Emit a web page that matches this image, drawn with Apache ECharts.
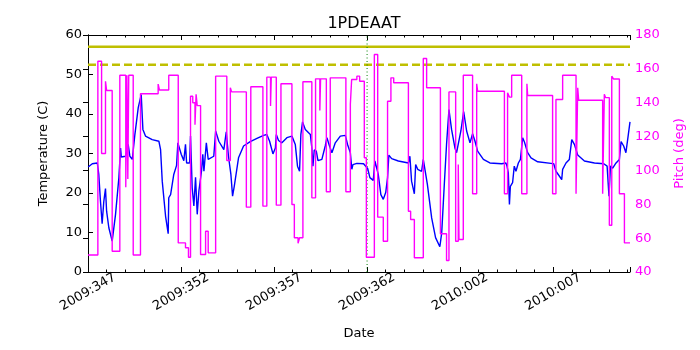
<!DOCTYPE html>
<html>
<head>
<meta charset="utf-8">
<script src="https://cdn.jsdelivr.net/npm/echarts@6/dist/echarts.min.js"></script>
<style>
  html, body { margin: 0; padding: 0; background: #fff; }
  #chart { width: 700px; height: 350px; }
</style>
</head>
<body>
<div id="chart"></div>
<script>
// x values are days since 2009:347
const tickLabels = ["2009:347", "2009:352", "2009:357", "2009:362", "2010:002", "2010:007"]
const dayMax = 29.13

const tempDays = [
    0.01, 0.23, 0.5, 0.58, 0.67, 0.76, 0.85, 0.94, 1.0, 1.12,
    1.3, 1.48, 1.66, 1.75, 1.79, 2.02, 2.16, 2.25, 2.38, 2.52,
    2.7, 2.86, 2.91, 2.95, 3.09, 3.45, 3.81, 3.9, 3.99, 4.17,
    4.31, 4.34, 4.44, 4.61, 4.76, 4.83, 5.01, 5.15, 5.24, 5.3,
    5.46, 5.51, 5.6, 5.69, 5.78, 5.87, 5.96, 6.1, 6.17, 6.23,
    6.36, 6.46, 6.76, 6.86, 7.03, 7.3, 7.43, 7.55, 7.68, 7.77,
    7.86, 8.09, 8.36, 8.72, 9.08, 9.44, 9.61, 9.76, 9.94, 10.07,
    10.12, 10.24, 10.42, 10.69, 10.96, 11.14, 11.26, 11.37, 11.44, 11.53,
    11.68, 11.95, 12.03, 12.09, 12.16, 12.27, 12.36, 12.57, 12.75, 12.84,
    12.98, 13.11, 13.29, 13.56, 13.83, 13.95, 14.1, 14.18, 14.24, 14.45,
    14.81, 14.88, 15.03, 15.15, 15.33, 15.42, 15.51, 15.6, 15.74, 15.87,
    16.0, 16.1, 16.17, 16.32, 16.68, 17.22, 17.3, 17.39, 17.54, 17.61,
    17.72, 17.93, 18.02, 18.11, 18.24, 18.47, 18.68, 18.91, 19.01, 19.15,
    19.27, 19.4, 19.54, 19.72, 19.81, 19.9, 20.04, 20.19, 20.35, 20.53,
    20.67, 20.8, 20.94, 21.25, 21.6, 22.23, 22.46, 22.52, 22.59, 22.65,
    22.7, 22.82, 22.91, 23.0, 23.13, 23.24, 23.36, 23.45, 23.63, 23.81,
    24.17, 24.88, 25.03, 25.15, 25.33, 25.46, 25.51, 25.69, 25.87, 26.0,
    26.14, 26.32, 26.68, 27.22, 27.72, 27.9, 28.0, 28.08, 28.2, 28.38,
    28.56, 28.65, 28.79, 28.91, 29.04, 29.13
]
const tempValues = [
    26.6, 27.4, 27.6, 24.7, 17.9, 12.2, 17.9, 21.1, 15.4, 11.2,
    7.8, 14.6, 23.9, 31.4, 29.1, 29.3, 32.3, 29.3, 28.5, 34.8,
    41.6, 44.9, 44.9, 36.1, 34.4, 33.5, 33.1, 31, 23, 14.1,
    9.7, 18.8, 19.6, 24.7, 27, 32.7, 29.8, 28.2, 32.3, 27.6,
    27.6, 34.4, 21.3, 16.7, 24, 14.6, 20.5, 25.5, 29.8, 25.5,
    32.7, 28.5, 29.3, 35.7, 33.1, 31, 35.5, 29.3, 24.7, 19.2,
    21.7, 28.9, 31.9, 33, 33.8, 34.6, 34.8, 33.1, 29.9, 31.4,
    34.8, 33.3, 32.7, 34, 34.4, 32.3, 26.8, 25.5, 34.8, 38,
    36.1, 34.8, 31.4, 26.8, 30.9, 30.6, 28.2, 28.5, 31.9, 34,
    31.9, 30.2, 32.7, 34.4, 34.6, 32.3, 30.2, 26, 27.2, 27.5,
    27.4, 27.6, 26.2, 23.9, 23.2, 28.1, 28.2, 24.7, 19.6, 18.4,
    20.1, 23.9, 29.6, 28.7, 28.1, 27.6, 29.3, 23, 19.8, 27.2,
    26, 25.5, 28.5, 28.2, 22.2, 13.7, 8.7, 6.4, 9.9, 22.2,
    32.3, 41.1, 36.1, 31.4, 30.2, 30.4, 35.7, 40.6, 35.7, 32.7,
    35, 33.1, 30.6, 28.5, 27.6, 27.4, 27.6, 26.8, 25.1, 17.1,
    21.7, 22.6, 26.8, 25.5, 27.6, 28.5, 34, 33, 30.2, 28.9,
    27.9, 27.5, 27.4, 25.5, 24.3, 23.4, 26, 27.6, 28.5, 33.5,
    32.3, 29.6, 28.1, 27.6, 27.4, 26.8, 19.2, 26.8, 26.3, 27.6,
    28.5, 33, 31.9, 30.2, 34.8, 38
]

// pitch holds each value until the next change
const pitchDays = [
    0, 0.53, 0.73, 0.94, 1.0, 1.3, 1.71, 2.03, 2.09, 2.14,
    2.19, 2.43, 2.82, 3.77, 3.84, 4.34, 4.85, 5.24, 5.4, 5.51,
    5.63, 5.75, 5.81, 5.87, 6.05, 6.32, 6.46, 6.86, 7.46, 7.65,
    7.72, 8.51, 8.75, 9.4, 9.61, 9.81, 9.85, 10.12, 10.37, 10.96,
    11.09, 11.29, 11.37, 11.55, 12.03, 12.23, 12.46, 12.5, 12.81, 13.02,
    13.86, 14.1, 14.17, 14.45, 14.6, 14.85, 14.96, 15.39, 15.57, 15.87,
    16.1, 16.28, 16.43, 17.22, 17.34, 17.54, 18.02, 18.2, 18.94, 19.27,
    19.4, 19.76, 19.9, 19.94, 20.17, 20.67, 20.89, 20.94, 22.38, 22.55,
    22.65, 22.77, 23.31, 23.59, 23.63, 24.97, 25.15, 25.51, 26.23, 26.32,
    26.37, 27.66, 27.75, 27.82, 28.02, 28.15, 28.25, 28.56, 28.83, 29.13
]
const pitchValues = [
    50, 164.5, 110, 152.7, 147.2, 52.3, 156.2, 90, 156.2, 95,
    156.2, 50, 145.3, 151, 147.5, 156.2, 57.2, 54.3, 48.7, 143.8,
    140, 127, 145, 138.3, 50.3, 64.1, 51.3, 155.7, 105.9, 148.8,
    146.4, 78.3, 149.4, 78.9, 155.1, 138, 155.1, 79.5, 151.2, 79.9,
    60.2, 57, 60.2, 152.4, 83.8, 154.1, 135.4, 154.1, 87.4, 154.7,
    87.4, 139, 153.7, 155.7, 152.7, 107.5, 48.7, 168.5, 72.4, 58.2,
    140.9, 154.7, 151.8, 75.9, 71, 48.4, 166.1, 148.8, 62.6, 46.8,
    146.4, 58.2, 103.5, 59.2, 156.2, 86.2, 151.2, 146.8, 86.2, 145.9,
    143.3, 156.2, 86.2, 151.2, 144.3, 86.2, 141.9, 156.2, 86.2, 148.8,
    141.5, 86.2, 145, 143, 67.6, 155.7, 154, 86.2, 57.2, 57.2
]

const planningLimit = 57
const cautionLimit = 52.5
const markerDay = 15

const font = "DejaVu Sans"
const zip = (xs, ys) => xs.map((x, i) => [x, ys[i]])

const xTickFormatter = v => (v % 5 === 0 && tickLabels[v / 5]) ? tickLabels[v / 5] : ""

var myChart = echarts.init(document.getElementById("chart"), null, { renderer: "canvas" })

var option = {
    animation: false,
    backgroundColor: "#ffffff",
    textStyle: { fontFamily: font },
    title: {
        text: "1PDEAAT",
        left: 359,
        top: 11,
        textAlign: "center",
        textStyle: { fontFamily: font, fontSize: 16, fontWeight: "normal", color: "#000" },
    },
    grid: { left: 88, right: 70, top: 35, bottom: 78, containLabel: false },
    xAxis: [
        {
            type: "value",
            position: "bottom",
            min: 0,
            max: dayMax,
            interval: 5,
            name: "Date",
            nameLocation: "middle",
            nameGap: 55,
            nameTextStyle: { fontFamily: font, fontSize: 13, color: "#000" },
            axisLine: { lineStyle: { color: "#000", width: 1 } },
            axisTick: { inside: true, length: 5, lineStyle: { color: "#000" } },
            minorTick: { show: true, splitNumber: 5, length: 2.5, lineStyle: { color: "#000" } },
            splitLine: { show: false },
            axisLabel: {
                rotate: 30,
                align: "center",
                verticalAlign: "middle",
                margin: 20,
                showMaxLabel: false,
                fontFamily: font,
                fontSize: 13,
                color: "#000",
                formatter: xTickFormatter,
            },
        },
        {
            type: "value",
            position: "top",
            min: 0,
            max: dayMax,
            interval: 5,
            axisLine: { lineStyle: { color: "#000", width: 1 } },
            axisTick: { inside: true, length: 5, lineStyle: { color: "#000" } },
            minorTick: { show: true, splitNumber: 5, length: 2.5, lineStyle: { color: "#000" } },
            splitLine: { show: false },
            axisLabel: { show: false },
        },
    ],
    yAxis: [
        {
            type: "value",
            position: "left",
            min: 0,
            max: 60,
            interval: 10,
            name: "Temperature (C)",
            nameLocation: "middle",
            nameRotate: 90,
            nameGap: 38,
            nameTextStyle: { fontFamily: font, fontSize: 13, color: "#000" },
            axisLine: { show: true, lineStyle: { color: "#000", width: 1 } },
            axisTick: { show: true, inside: true, length: 5, lineStyle: { color: "#000" } },
            splitLine: { show: false },
            axisLabel: { margin: 6, fontFamily: font, fontSize: 13, color: "#000" },
        },
        {
            type: "value",
            position: "right",
            min: 40,
            max: 180,
            interval: 20,
            name: "Pitch (deg)",
            nameLocation: "middle",
            nameRotate: 90,
            nameGap: 43,
            nameTextStyle: { fontFamily: font, fontSize: 13, color: "#ff00ff" },
            axisLine: { show: true, lineStyle: { color: "#000", width: 1 } },
            axisTick: { show: true, inside: true, length: 5, lineStyle: { color: "#000" } },
            splitLine: { show: false },
            axisLabel: { margin: 5, fontFamily: font, fontSize: 13, color: "#ff00ff" },
        },
    ],
    series: [
        {
            name: "planning",
            type: "line",
            xAxisIndex: 0,
            yAxisIndex: 0,
            data: [[0, planningLimit], [dayMax, planningLimit]],
            showSymbol: false,
            silent: true,
            lineStyle: { color: "#bfbf00", width: 2.5 },
        },
        {
            name: "caution",
            type: "line",
            xAxisIndex: 0,
            yAxisIndex: 0,
            data: [[0, cautionLimit], [dayMax, cautionLimit]],
            showSymbol: false,
            silent: true,
            lineStyle: { color: "#bfbf00", width: 2.5, type: [8, 4] },
        },
        {
            name: "marker",
            type: "line",
            xAxisIndex: 0,
            yAxisIndex: 0,
            data: [[markerDay, 0], [markerDay, 60]],
            showSymbol: false,
            silent: true,
            lineStyle: { color: "#008000", width: 1, type: [1, 2.5] },
        },
        {
            name: "temperature",
            type: "line",
            xAxisIndex: 0,
            yAxisIndex: 0,
            data: zip(tempDays, tempValues),
            showSymbol: false,
            lineStyle: { color: "#0000ff", width: 1.4 },
        },
        {
            name: "pitch",
            type: "line",
            step: "end",
            xAxisIndex: 0,
            yAxisIndex: 1,
            data: zip(pitchDays, pitchValues),
            showSymbol: false,
            lineStyle: { color: "#ff00ff", width: 1.4 },
        },
    ],
}

myChart.setOption(option, true)
</script>
</body>
</html>
